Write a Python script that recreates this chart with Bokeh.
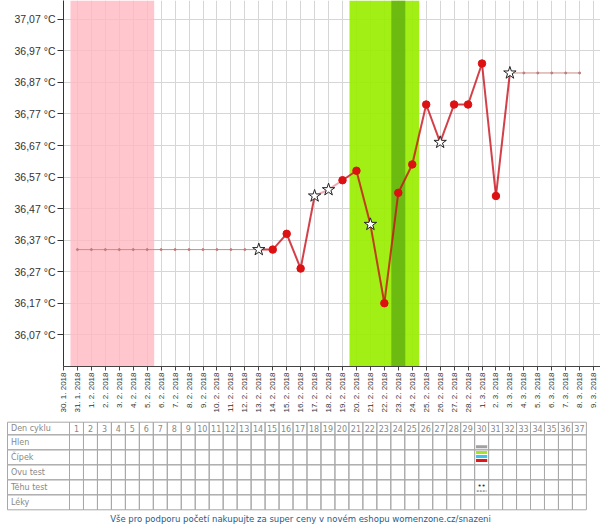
import math
from bokeh.plotting import figure
from bokeh.models import Range1d, FixedTicker, BoxAnnotation, ColumnDataSource
from bokeh.core.properties import value
from bokeh.embed import file_html
from bokeh.resources import INLINE

# ---------------- data ----------------
dates = ["30. 1. 2018", "31. 1. 2018",
         "1. 2. 2018", "2. 2. 2018", "3. 2. 2018", "4. 2. 2018", "5. 2. 2018",
         "6. 2. 2018", "7. 2. 2018", "8. 2. 2018", "9. 2. 2018", "10. 2. 2018",
         "11. 2. 2018", "12. 2. 2018", "13. 2. 2018", "14. 2. 2018", "15. 2. 2018",
         "16. 2. 2018", "17. 2. 2018", "18. 2. 2018", "19. 2. 2018", "20. 2. 2018",
         "21. 2. 2018", "22. 2. 2018", "23. 2. 2018", "24. 2. 2018", "25. 2. 2018",
         "26. 2. 2018", "27. 2. 2018", "28. 2. 2018",
         "1. 3. 2018", "2. 3. 2018", "3. 3. 2018", "4. 3. 2018", "5. 3. 2018",
         "6. 3. 2018", "7. 3. 2018", "8. 3. 2018", "9. 3. 2018"]

y_ticks = [36.07, 36.17, 36.27, 36.37, 36.47, 36.57, 36.67, 36.77, 36.87, 36.97, 37.07]
y_tick_labels = ["36,07 °C", "36,17 °C", "36,27 °C", "36,37 °C", "36,47 °C", "36,57 °C",
                 "36,67 °C", "36,77 °C", "36,87 °C", "36,97 °C", "37,07 °C"]

temp_dates = ["13. 2. 2018", "14. 2. 2018", "15. 2. 2018", "16. 2. 2018", "17. 2. 2018",
              "18. 2. 2018", "19. 2. 2018", "20. 2. 2018", "21. 2. 2018", "22. 2. 2018",
              "23. 2. 2018", "24. 2. 2018", "25. 2. 2018", "26. 2. 2018", "27. 2. 2018",
              "28. 2. 2018", "1. 3. 2018", "2. 3. 2018", "3. 3. 2018"]
temps = [36.34, 36.34, 36.39, 36.28, 36.51, 36.53, 36.56, 36.59, 36.42, 36.17,
         36.52, 36.61, 36.80, 36.68, 36.80, 36.80, 36.93, 36.51, 36.90]
temp_marker = ["star", "dot", "dot", "dot", "star", "star", "dot", "dot", "star", "dot",
               "dot", "dot", "dot", "star", "dot", "dot", "dot", "dot", "star"]
pale_segment = [False, False, False, False, True, True, False, False, False,
                False, False, False, False, False, False, False, False, False]

lead_dates = ["31. 1. 2018", "1. 2. 2018", "2. 2. 2018", "3. 2. 2018", "4. 2. 2018",
              "5. 2. 2018", "6. 2. 2018", "7. 2. 2018", "8. 2. 2018", "9. 2. 2018",
              "10. 2. 2018", "11. 2. 2018", "12. 2. 2018", "13. 2. 2018"]
lead_value = 36.34
tail_dates = ["3. 3. 2018", "4. 3. 2018", "5. 3. 2018", "6. 3. 2018", "7. 3. 2018",
              "8. 3. 2018"]
tail_value = 36.90

period_days = ["31. 1. 2018", "5. 2. 2018"]
fertile_days = ["20. 2. 2018", "24. 2. 2018"]
ovulation_day = "23. 2. 2018"

table_rows = ["Den cyklu", "Hlen", "Čípek", "Ovu test", "Těhu test", "Léky"]
cycle_days = list(range(1, 38))
hlen_day = 30
cipek_day = 30
cipek_colors = ["#a6e22e", "#3ec3ea", "#e0161b"]
tehu_day = 30
tehu_mark = "••"

footer = "Vše pro podporu početí nakupujte za super ceny v novém eshopu womenzone.cz/snazeni"

# ---------------- chart ----------------
idx = {d: i for i, d in enumerate(dates)}
W = 600
LEFT = 63
k = 13.95                      # px per day
X_END = (W - LEFT) / k
PX_DEG = 318.0                 # px per degree
FRAME_H = 369
Y_TOP = 37.07 + 19 / PX_DEG
Y_BOT = Y_TOP - FRAME_H / PX_DEG
BOTTOM = 46

p = figure(width=W, height=FRAME_H + BOTTOM, output_backend="svg", toolbar_location=None,
           x_range=Range1d(0, X_END), y_range=Range1d(Y_BOT, Y_TOP),
           min_border_left=LEFT, min_border_right=0, min_border_top=0, min_border_bottom=BOTTOM,
           styles={"vertical-align": "top"})
p.outline_line_color = None
p.background_fill_color = "white"

p.xaxis.ticker = FixedTicker(ticks=list(range(len(dates))))
p.xaxis.major_label_overrides = {i: d for i, d in enumerate(dates)}
p.xaxis.major_label_orientation = math.pi / 2
p.xaxis.major_label_text_font = "Liberation Sans"
p.xaxis.major_label_text_font_size = "8px"
p.xaxis.major_label_text_color = "#333333"
p.xaxis.major_tick_out = 4
p.xaxis.major_tick_in = 0
p.xaxis.minor_tick_line_color = None
p.xaxis.axis_line_color = "#444444"
p.xaxis.major_tick_line_color = "#444444"
p.xaxis.major_label_standoff = 2

p.yaxis.ticker = FixedTicker(ticks=y_ticks)
p.yaxis.major_label_overrides = {v: l for v, l in zip(y_ticks, y_tick_labels)}
p.yaxis.major_label_text_font = "Liberation Sans"
p.yaxis.major_label_text_font_size = "10.5px"
p.yaxis.major_label_text_color = "#333333"
p.yaxis.major_tick_out = 6
p.yaxis.major_tick_in = 0
p.yaxis.minor_tick_line_color = None
p.yaxis.axis_line_color = "#333333"
p.yaxis.major_tick_line_color = "#333333"
p.yaxis.major_label_standoff = 2

p.xgrid.ticker = FixedTicker(ticks=list(range(len(dates))))
p.grid.grid_line_color = "#d6d6d6"
p.grid.grid_line_width = 1

# bands
p.add_layout(BoxAnnotation(left=idx[period_days[0]] - 0.5, right=idx[period_days[1]] + 0.5,
                           fill_color="#ffb8c0", fill_alpha=0.8, line_color=None, level="underlay"))
p.add_layout(BoxAnnotation(left=idx[fertile_days[0]] - 0.5, right=idx[fertile_days[1]] + 0.5,
                           fill_color="#99ee00", fill_alpha=0.92, line_color=None, level="underlay"))
p.add_layout(BoxAnnotation(left=idx[ovulation_day] - 0.5, right=idx[ovulation_day] + 0.5,
                           fill_color="#5fae10", fill_alpha=0.8, line_color=None, level="underlay"))

# lead / tail lines
lx = [idx[d] for d in lead_dates]
p.line(lx, [lead_value] * len(lx), line_color="#c98b8b", line_width=1)
p.scatter(lx, [lead_value] * len(lx), size=2, color="#c07b7b")
tx = [idx[d] for d in tail_dates]
p.line(tx, [tail_value] * len(tx), line_color="#c98b8b", line_width=1)
p.scatter(tx, [tail_value] * len(tx), size=2, color="#c07b7b")

# main line as segments
xs = [idx[d] for d in temp_dates]
seg = dict(x0=xs[:-1], x1=xs[1:], y0=temps[:-1], y1=temps[1:],
           color=["#eeaab4" if pl else "#c8101c" for pl in pale_segment],
           alpha=[1.0 if pl else 0.8 for pl in pale_segment])
p.segment("x0", "y0", "x1", "y1", source=ColumnDataSource(seg), line_color="color",
          line_alpha="alpha", line_width=2)

dot_x = [x for x, m in zip(xs, temp_marker) if m == "dot"]
dot_y = [t for t, m in zip(temps, temp_marker) if m == "dot"]
star_x = [x for x, m in zip(xs, temp_marker) if m == "star"]
star_y = [t for t, m in zip(temps, temp_marker) if m == "star"]
p.scatter(dot_x, dot_y, size=7.5, fill_color="#dd1111", line_color="#dd1111")
p.scatter(star_x, star_y, marker="star", size=13, fill_color="white",
          line_color="#222222", line_width=1)

# ---------------- table + footer ----------------
kt = 13.97                     # px per table column
s = 0.5 - 69 / kt
e = s + W / kt
row_h = [0.84, 1, 1, 1, 1, 1]
row_top = [sum(row_h[:i]) for i in range(len(row_h))]
row_bot = [row_top[i] + row_h[i] for i in range(len(row_h))]
px_u = 15.0
TH = 527 - (FRAME_H + BOTTOM)
top_pad = 421.7 - (FRAME_H + BOTTOM)
t = figure(width=W, height=TH, output_backend="svg", toolbar_location=None,
           x_range=Range1d(s, e), y_range=Range1d((TH - top_pad) / px_u, -top_pad / px_u),
           x_axis_location=None, y_axis_location=None,
           min_border_left=0, min_border_right=0, min_border_top=0, min_border_bottom=0,
           styles={"vertical-align": "top"})
t.outline_line_color = None
t.grid.visible = False

label_left = s + 7 / kt
cl, cr, ct, cb = [], [], [], []
for r in range(len(table_rows)):
    cl.append(label_left); cr.append(0.5); ct.append(row_top[r]); cb.append(row_bot[r])
    for d in cycle_days:
        cl.append(d - 0.5); cr.append(d + 0.5); ct.append(row_top[r]); cb.append(row_bot[r])
t.quad(left=cl, right=cr, top=ct, bottom=cb, fill_color=None, line_color="#a8a8a8", line_width=1)

t.text(x=[label_left + 0.25] * len(table_rows),
       y=[(row_top[r] + row_bot[r]) / 2 for r in range(len(table_rows))],
       text=table_rows, text_font=value("DejaVu Sans"), text_font_size="8px",
       text_color="#888888", text_baseline="middle", text_align="left")
t.text(x=cycle_days, y=[(row_top[0] + row_bot[0]) / 2] * len(cycle_days),
       text=[str(d) for d in cycle_days], text_font=value("DejaVu Sans"),
       text_font_size="8px", text_color="#888888", text_baseline="middle", text_align="center")

# marks
t.quad(left=[hlen_day - 0.4], right=[hlen_day + 0.4],
       top=[row_top[1] + 0.7], bottom=[row_top[1] + 0.9], fill_color="#a0a0a0", line_color=None)
cip_t = [row_top[2] + f for f in (0.08, 0.35, 0.62)]
t.quad(left=[cipek_day - 0.4] * 3, right=[cipek_day + 0.4] * 3,
       top=cip_t, bottom=[v + 0.2 for v in cip_t], fill_color=cipek_colors, line_color=None)
t.text(x=[tehu_day], y=[row_top[4] + 0.4], text=[tehu_mark], text_font=value("DejaVu Sans"),
       text_font_size="7px", text_color="#333333", text_baseline="middle", text_align="center")
t.segment(x0=[tehu_day - 0.35], y0=[row_top[4] + 0.75], x1=[tehu_day + 0.35],
          y1=[row_top[4] + 0.75], line_color="#555555", line_width=1, line_dash="2 1")

t.text(x=[(s + e) / 2], y=[row_bot[-1] + 0.58], text=[footer],
       text_font=value("DejaVu Sans"), text_font_size="8.5px", text_color="#1e5b8c",
       text_baseline="middle", text_align="center")

open("out.html", "w").write(file_html([p, t], INLINE))
